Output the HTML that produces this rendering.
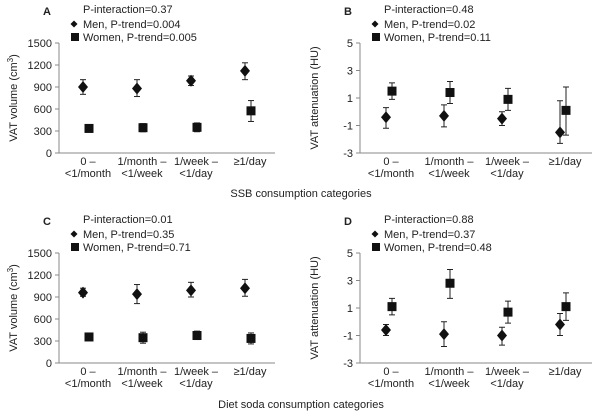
<!DOCTYPE html>
<html><head><meta charset="utf-8"><style>
body{margin:0;background:#fff}
svg{display:block;font-family:"Liberation Sans",Arial,sans-serif}
text{fill:#222}
</style></head><body>
<svg id="fig" width="602" height="418" viewBox="0 0 602 418" xmlns="http://www.w3.org/2000/svg"></svg>
<script>
const categories = ["0 –|<1/month","1/month –|<1/week","1/week –|<1/day","≥1/day"];
const menA = [900, 880, 985, 1120];
const menALo = [800, 770, 920, 1000];
const menAHi = [1000, 1000, 1050, 1230];
const womenA = [335, 345, 350, 575];
const womenALo = [300, 290, 290, 430];
const womenAHi = [370, 400, 410, 715];
const menB = [-0.4, -0.3, -0.5, -1.5];
const menBLo = [-1.2, -1.1, -1.0, -2.3];
const menBHi = [0.3, 0.5, 0.0, 0.8];
const womenB = [1.5, 1.4, 0.9, 0.1];
const womenBLo = [0.9, 0.6, 0.1, -1.7];
const womenBHi = [2.1, 2.2, 1.7, 1.8];
const menC = [960, 940, 990, 1020];
const menCLo = [910, 810, 900, 910];
const menCHi = [1020, 1070, 1100, 1140];
const womenC = [355, 345, 375, 335];
const womenCLo = [310, 270, 320, 260];
const womenCHi = [400, 420, 435, 410];
const menD = [-0.6, -0.9, -1.0, -0.2];
const menDLo = [-1.0, -1.8, -1.7, -1.0];
const menDHi = [-0.2, 0.0, -0.4, 0.6];
const womenD = [1.1, 2.8, 0.7, 1.1];
const womenDLo = [0.5, 1.7, -0.1, 0.1];
const womenDHi = [1.7, 3.8, 1.5, 2.1];
const volTicks = [0, 300, 600, 900, 1200, 1500];
const attTicks = [-3, -1, 1, 3, 5];
const legends = {
  A:["P-interaction=0.37","Men, P-trend=0.004","Women, P-trend=0.005"],
  B:["P-interaction=0.48","Men, P-trend=0.02","Women, P-trend=0.11"],
  C:["P-interaction=0.01","Men, P-trend=0.35","Women, P-trend=0.71"],
  D:["P-interaction=0.88","Men, P-trend=0.37","Women, P-trend=0.48"]
};
const NS="http://www.w3.org/2000/svg";
const svg=document.getElementById('fig');
function el(tag,attrs,parent,txt){const e=document.createElementNS(NS,tag);for(const k in attrs)e.setAttribute(k,attrs[k]);if(txt!==undefined)e.textContent=txt;(parent||svg).appendChild(e);return e;}

function panel(id,ox,oy,axW,ticks,ymin,ymax,men,mLo,mHi,wom,wLo,wHi,isVol){
  const g=el('g',{});
  
  
  const top=oy, bot=oy+110;
  const y=v=>bot-(v-ymin)/(ymax-ymin)*(bot-top);
  const step=axW/4;
  const xc=i=>ox+step*(i+0.5);
  const ax=el('line',{x1:ox,y1:top,x2:ox,y2:bot,stroke:'#888','stroke-width':1},g);
  
  const xa=el('line',{x1:ox,y1:bot,x2:ox+axW,y2:bot,stroke:'#888','stroke-width':1},g);
  
  ticks.forEach(t=>{
    el('line',{x1:ox-4,y1:y(t),x2:ox,y2:y(t),stroke:'#888'},g);
    const tl=el('text',{x:ox-7,y:y(t)+4,'text-anchor':'end','font-size':11},g,String(t));
    
  });
  categories.forEach((c,i)=>{
    const [a,b]=c.split('|');
    const t1=el('text',{x:xc(i)+2,y:bot+12,'text-anchor':'middle','font-size':11},g,a);
    
    if(b){const t2=el('text',{x:xc(i)+2,y:bot+24,'text-anchor':'middle','font-size':11},g,b);
    }
  });
  const yt=el('text',{transform:`translate(${ox-42},${(top+bot)/2}) rotate(-90)`,'text-anchor':'middle','font-size':11},g);
  
  if(isVol){yt.textContent='VAT volume (cm';el('tspan',{'font-size':8,dy:-4},yt,'3');el('tspan',{dy:4},yt,')');}
  else yt.textContent='VAT attenuation (HU)';
  function err(x,lo,hi){
    el('line',{x1:x,y1:y(lo),x2:x,y2:y(hi),stroke:'#222'},g);
    el('line',{x1:x-3,y1:y(lo),x2:x+3,y2:y(lo),stroke:'#222'},g);
    el('line',{x1:x-3,y1:y(hi),x2:x+3,y2:y(hi),stroke:'#222'},g);
  }
  men.forEach((v,i)=>{
    const x=xc(i)-3;err(x,mLo[i],mHi[i]);
    const p=el('polygon',{points:`${x},${y(v)-6} ${x+5},${y(v)} ${x},${y(v)+6} ${x-5},${y(v)}`,fill:'#111'},g);
    
  });
  wom.forEach((v,i)=>{
    const x=xc(i)+3;err(x,wLo[i],wHi[i]);
    const r=el('rect',{x:x-4.5,y:y(v)-4.5,width:9,height:9,fill:'#111'},g);
    
  });
  const lt=el('text',{x:ox-16,y:oy-28,'font-size':11,'font-weight':'bold'},g,id);
  
  const L=legends[id];
  const l0=el('text',{x:ox+24,y:oy-30,'font-size':11},g,L[0]);
  
  el('polygon',{points:`${ox+15},${oy-22.5} ${ox+18.5},${oy-19} ${ox+15},${oy-15.5} ${ox+11.5},${oy-19}`,fill:'#111'},g);
  const l1=el('text',{x:ox+24,y:oy-15,'font-size':11},g,L[1]);
  
  el('rect',{x:ox+12,y:oy-10,width:8,height:8,fill:'#111'},g);
  const l2=el('text',{x:ox+24,y:oy-2,'font-size':11},g,L[2]);
  
}
panel('A',59,43,216,volTicks,0,1500,menA,menALo,menAHi,womenA,womenALo,womenAHi,true);
panel('B',360,43,232,attTicks,-3,5,menB,menBLo,menBHi,womenB,womenBLo,womenBHi,false);
panel('C',59,253,216,volTicks,0,1500,menC,menCLo,menCHi,womenC,womenCLo,womenCHi,true);
panel('D',360,253,232,attTicks,-3,5,menD,menDLo,menDHi,womenD,womenDLo,womenDHi,false);
const x1=el('text',{x:301,y:197,'text-anchor':'middle','font-size':11},svg,'SSB consumption categories');

const x2=el('text',{x:301,y:408,'text-anchor':'middle','font-size':11},svg,'Diet soda consumption categories');

</script>
</body></html>
